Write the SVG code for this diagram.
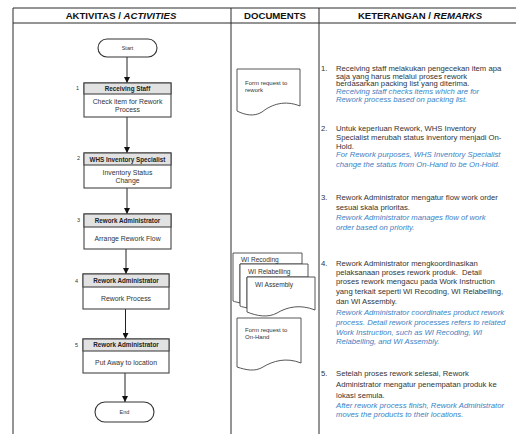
<svg xmlns="http://www.w3.org/2000/svg" width="516" height="434" viewBox="0 0 516 434">
<defs>
<style>
.grid{stroke:#2a2a2a;stroke-width:1;fill:none}
.hdr{font-family:"Liberation Sans",Arial,sans-serif;font-weight:bold;font-size:9.6px;fill:#111;text-anchor:middle}
.box{fill:#fff;stroke:#444;stroke-width:1.1}
.band{fill:#e2e2e2;stroke:#444;stroke-width:1.1}
.bt{font-family:"Liberation Sans",Arial,sans-serif;font-weight:bold;font-size:6.3px;fill:#222;text-anchor:middle}
.tx{font-family:"Liberation Sans",Arial,sans-serif;font-size:6.9px;fill:#333;text-anchor:middle}
.num{font-family:"Liberation Sans",Arial,sans-serif;font-size:5.5px;fill:#333}
.term{fill:#fff;stroke:#333;stroke-width:1.1}
.termt{font-family:"Liberation Sans",Arial,sans-serif;font-size:5.5px;fill:#333;text-anchor:middle}
.doc{fill:#fff;stroke:#444;stroke-width:0.9}
.dt{font-family:"Liberation Sans",Arial,sans-serif;font-size:6px;fill:#333}
.wt{font-family:"Liberation Sans",Arial,sans-serif;font-size:6.6px;fill:#333}
.rk{font-family:"Liberation Sans",Arial,sans-serif;font-size:7.7px;fill:#333}
.bl{font-family:"Liberation Sans",Arial,sans-serif;font-size:7.7px;fill:#3b7fc4;font-style:italic}
.conn{stroke:#222;stroke-width:1;fill:none}
</style>
<marker id="ah" viewBox="0 0 10 10" refX="10" refY="5" markerWidth="6" markerHeight="6" markerUnits="userSpaceOnUse" orient="auto">
<path d="M0,0 L10,5 L0,10 z" fill="#111"/>
</marker>
</defs>
<rect width="516" height="434" fill="#fff"/>

<g id="table">
<line class="grid" x1="13" y1="8" x2="516" y2="8"/>
<line class="grid" x1="13" y1="23" x2="516" y2="23"/>
<line class="grid" x1="13" y1="8" x2="13" y2="434"/>
<line class="grid" x1="231" y1="8" x2="231" y2="434"/>
<line class="grid" x1="319" y1="8" x2="319" y2="434"/>
<text class="hdr" x="121" y="19">AKTIVITAS / <tspan font-style="italic">ACTIVITIES</tspan></text>
<text class="hdr" x="275" y="19">DOCUMENTS</text>
<text class="hdr" x="420" y="19">KETERANGAN / <tspan font-style="italic">REMARKS</tspan></text>
</g>

<g id="connectors">
<line class="conn" x1="127" y1="57" x2="127" y2="83" marker-end="url(#ah)"/>
<line class="conn" x1="127" y1="117" x2="127" y2="153" marker-end="url(#ah)"/>
<line class="conn" x1="127" y1="188" x2="127" y2="214" marker-end="url(#ah)"/>
<line class="conn" x1="126" y1="249" x2="126" y2="274" marker-end="url(#ah)"/>
<line class="conn" x1="125.5" y1="309" x2="125.5" y2="339" marker-end="url(#ah)"/>
<line class="conn" x1="125" y1="373" x2="125" y2="402" marker-end="url(#ah)"/>
</g>

<g id="start">
<rect class="term" x="98" y="39" width="59" height="18" rx="9"/>
<text class="termt" x="127.5" y="50">Start</text>
</g>

<g id="step1">
<rect class="box" x="84" y="83" width="87" height="34"/>
<rect class="band" x="84" y="83" width="87" height="11"/>
<text class="bt" x="127.5" y="91">Receiving Staff</text>
<text class="tx" x="127.5" y="104">Check item for Rework</text>
<text class="tx" x="127.5" y="112">Process</text>
<text class="num" x="76" y="90">1</text>
</g>

<g id="step2">
<rect class="box" x="84" y="153" width="87" height="35"/>
<rect class="band" x="84" y="153" width="87" height="12"/>
<text class="bt" x="127.5" y="161.5">WHS Inventory Specialist</text>
<text class="tx" x="127.5" y="175">Inventory Status</text>
<text class="tx" x="127.5" y="183">Change</text>
<text class="num" x="77" y="160">2</text>
</g>

<g id="step3">
<rect class="box" x="84" y="214" width="87" height="35"/>
<rect class="band" x="84" y="214" width="87" height="13"/>
<text class="bt" x="127.5" y="222.8">Rework Administrator</text>
<text class="tx" x="127.5" y="240.5">Arrange Rework Flow</text>
<text class="num" x="77" y="222">3</text>
</g>

<g id="step4">
<rect class="box" x="83" y="274" width="86" height="35"/>
<rect class="band" x="83" y="274" width="86" height="13"/>
<text class="bt" x="126" y="282.8">Rework Administrator</text>
<text class="tx" x="126" y="300.5">Rework Process</text>
<text class="num" x="75" y="283">4</text>
</g>

<g id="step5">
<rect class="box" x="83" y="339" width="86" height="34"/>
<rect class="band" x="83" y="339" width="86" height="12"/>
<text class="bt" x="126" y="347.3">Rework Administrator</text>
<text class="tx" x="126" y="364.5">Put Away to location</text>
<text class="num" x="75" y="347">5</text>
</g>

<g id="end">
<rect class="term" x="95" y="402" width="59" height="20" rx="10"/>
<text class="termt" x="124.5" y="414">End</text>
</g>

<g id="doc-rework">
<path class="doc" d="M237,69 H300 V106 C285,100 272,104 262,112 C254,117 245,115 237,111 Z"/>
<text class="dt" x="245" y="85">Form request to</text>
<text class="dt" x="245" y="92">rework</text>
</g>

<g id="doc-wi">
<path class="doc" d="M233,253 H302 V264 H240 V303 C237,302 235,302 233,301 Z"/>
<text class="wt" x="241" y="261.5">WI Recoding</text>
<path class="doc" d="M240,264 H308 V277 H247 V308 C244,307 242,307 240,306 Z"/>
<text class="wt" x="248" y="273.5">WI Relabelling</text>
<path class="doc" d="M247,277 H315 V310 C300,304 287,307 277,313 C268,318 257,316 247,312 Z"/>
<text class="wt" x="255" y="286.5">WI Assembly</text>
</g>

<g id="doc-onhand">
<path class="doc" d="M237,318 H301 V363 C286,357 273,361 263,367 C255,372 246,370 237,367 Z"/>
<text class="dt" x="245" y="332">Form request to</text>
<text class="dt" x="245" y="339">On-Hand</text>
</g>

<g id="remarks">
<text class="rk" x="321" y="70.5">1.</text>
<text class="rk" x="336" y="70.5">Receiving staff melakukan pengecekan item apa</text>
<text class="rk" x="336" y="78.5">saja yang harus melalui proses rework</text>
<text class="rk" x="336" y="86">berdasarkan packing list yang diterima.</text>
<text class="bl" x="336" y="94">Receiving staff checks items which are for</text>
<text class="bl" x="336" y="101.5">Rework process based on packing list.</text>

<text class="rk" x="321" y="131">2.</text>
<text class="rk" x="336" y="131">Untuk keperluan Rework, WHS Inventory</text>
<text class="rk" x="336" y="140">Specialist merubah status inventory menjadi On-</text>
<text class="rk" x="336" y="148.5">Hold.</text>
<text class="bl" x="336" y="157">For Rework purposes, WHS Inventory Specialist</text>
<text class="bl" x="336" y="166.5">change the status from On-Hand to be On-Hold.</text>

<text class="rk" x="321" y="199.5">3.</text>
<text class="rk" x="336" y="199.5">Rework Administrator mengatur flow work order</text>
<text class="rk" x="336" y="209.5">sesuai skala prioritas.</text>
<text class="bl" x="336" y="219.5">Rework Administrator manages flow of work</text>
<text class="bl" x="336" y="229.5">order based on priority.</text>

<text class="rk" x="321" y="265.5">4.</text>
<text class="rk" x="336" y="265.5">Rework Administrator mengkoordinasikan</text>
<text class="rk" x="336" y="274.5" xml:space="preserve">pelaksanaan proses rework produk.  Detail</text>
<text class="rk" x="336" y="284">proses rework mengacu pada Work Instruction</text>
<text class="rk" x="336" y="293.5">yang terkait seperti WI Recoding, WI Relabelling,</text>
<text class="rk" x="336" y="303.5">dan WI Assembly.</text>
<text class="bl" x="336" y="314.5">Rework Administrator coordinates product rework</text>
<text class="bl" x="336" y="324.5">process. Detail rework processes refers to related</text>
<text class="bl" x="336" y="334.5">Work Instruction, such as WI Recoding, WI</text>
<text class="bl" x="336" y="343.5">Relabelling, and WI Assembly.</text>

<text class="rk" x="321" y="375.5">5.</text>
<text class="rk" x="336" y="375.5">Setelah proses rework selesai, Rework</text>
<text class="rk" x="336" y="386.5">Administrator mengatur penempatan produk ke</text>
<text class="rk" x="336" y="397.5">lokasi semula.</text>
<text class="bl" x="336" y="407.5">After rework process finish, Rework Administrator</text>
<text class="bl" x="336" y="416.5">moves the products to their locations.</text>
</g>
</svg>
